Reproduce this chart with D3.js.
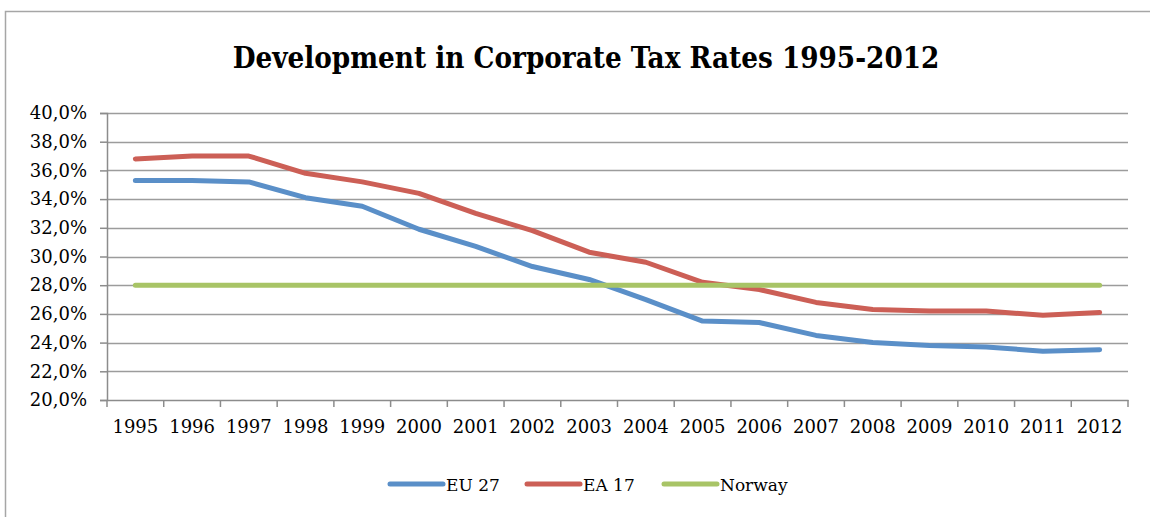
<!DOCTYPE html>
<html>
<head>
<meta charset="utf-8">
<script src="https://cdn.jsdelivr.net/npm/d3@7"></script>
<style>
  html, body { margin: 0; padding: 0; background: #fff; }
  svg { display: block; }
</style>
</head>
<body>
<svg id="chart" width="1150" height="517"></svg>
<script>
// Corporate tax rates (%) by year
const years = [1995, 1996, 1997, 1998, 1999, 2000, 2001, 2002, 2003, 2004, 2005, 2006, 2007, 2008, 2009, 2010, 2011, 2012];
const eu27 = [35.3, 35.3, 35.2, 34.1, 33.5, 31.9, 30.7, 29.3, 28.4, 27.0, 25.5, 25.4, 24.5, 24.0, 23.8, 23.7, 23.4, 23.5];
const ea17 = [36.8, 37.0, 37.0, 35.8, 35.2, 34.4, 33.0, 31.8, 30.3, 29.6, 28.2, 27.7, 26.8, 26.3, 26.2, 26.2, 25.9, 26.1];
const norway = [28.0, 28.0, 28.0, 28.0, 28.0, 28.0, 28.0, 28.0, 28.0, 28.0, 28.0, 28.0, 28.0, 28.0, 28.0, 28.0, 28.0, 28.0];
const yTicks = [20, 22, 24, 26, 28, 30, 32, 34, 36, 38, 40];
const seriesNames = ["EU 27", "EA 17", "Norway"];
const seriesColors = ["#5a8fc8", "#cc5f56", "#a8c466"];

const series = [eu27, ea17, norway].map((values, i) => ({
  name: seriesNames[i], color: seriesColors[i], values
}));

const svg = d3.select("#chart");
const serif = "'DejaVu Serif', 'Liberation Serif', serif";
const serifCond = "'DejaVu Serif Condensed', 'DejaVu Serif', serif";

// outer frame
svg.append("path")
  .attr("d", "M5.5,517 L5.5,11.5 L1150,11.5")
  .attr("fill", "none").attr("stroke", "#a6a6a6").attr("stroke-width", 1.5);

const plot = { left: 107, right: 1128, top: 113, bottom: 400 };

const x = d3.scaleBand().domain(years).range([plot.left, plot.right]);
const y = d3.scaleLinear().domain([20, 40]).range([plot.bottom, plot.top]);

// title
const title = svg.append("text")
  .attr("x", 586).attr("y", 68)
  .attr("text-anchor", "middle")
  .attr("font-family", serifCond).attr("font-weight", "bold")
  .attr("font-size", 28).attr("fill", "#000")
  .text("Development in Corporate Tax Rates 1995-2012");
const tw = title.node().getComputedTextLength();
title.attr("font-size", 28 * 707 / tw);

// horizontal gridlines
svg.append("g").selectAll("line").data(yTicks.filter(d => d > 20)).join("line")
  .attr("x1", plot.left).attr("x2", plot.right)
  .attr("y1", d => Math.round(y(d)) + 0.5).attr("y2", d => Math.round(y(d)) + 0.5)
  .attr("stroke", "#9c9c9c").attr("stroke-width", 1.5);

// y axis
const yAxis = svg.append("g")
  .attr("transform", `translate(${plot.left},0)`)
  .call(d3.axisLeft(y).tickValues(yTicks).tickSize(7).tickPadding(13)
    .tickFormat(d => d3.format(".1f")(d).replace(".", ",") + "%"));
yAxis.select(".domain").attr("stroke", "#8c8c8c").attr("stroke-width", 1.5);
yAxis.selectAll(".tick line").attr("stroke", "#8c8c8c").attr("stroke-width", 1.5);
yAxis.selectAll(".tick text")
  .attr("font-family", serif).attr("font-size", 18).attr("fill", "#000");

// x axis with ticks at category boundaries
const xAxis = svg.append("g")
  .attr("transform", `translate(0,${plot.bottom})`)
  .call(d3.axisBottom(x).tickSize(0).tickPadding(20));
xAxis.select(".domain").attr("stroke", "#8c8c8c").attr("stroke-width", 1.5);
xAxis.selectAll(".tick text")
  .attr("font-family", serif).attr("font-size", 18).attr("fill", "#000");
const bounds = years.map(d => x(d)).concat([x(years[years.length - 1]) + x.bandwidth()]);
xAxis.append("g").selectAll("line").data(bounds).join("line")
  .attr("x1", d => d).attr("x2", d => d)
  .attr("y1", 0).attr("y2", 7)
  .attr("stroke", "#8c8c8c").attr("stroke-width", 1.5);

// series lines
const line = d3.line()
  .x((d, i) => x(years[i]) + x.bandwidth() / 2)
  .y(d => y(d));

svg.append("g").selectAll("path").data(series).join("path")
  .attr("d", d => line(d.values))
  .attr("fill", "none")
  .attr("stroke", d => d.color)
  .attr("stroke-width", 5)
  .attr("stroke-linejoin", "round")
  .attr("stroke-linecap", "round");

// legend
const legendX = [388, 525, 662];
const legend = svg.append("g").selectAll("g").data(series).join("g")
  .attr("transform", (d, i) => `translate(${legendX[i]},484)`);
legend.append("line")
  .attr("x1", 2).attr("x2", 55).attr("y1", 0).attr("y2", 0)
  .attr("stroke", d => d.color).attr("stroke-width", 5)
  .attr("stroke-linecap", "round");
legend.append("text")
  .attr("x", 58).attr("y", 6.5)
  .attr("font-family", serif).attr("font-size", 17).attr("fill", "#000")
  .text(d => d.name);
</script>
</body>
</html>
